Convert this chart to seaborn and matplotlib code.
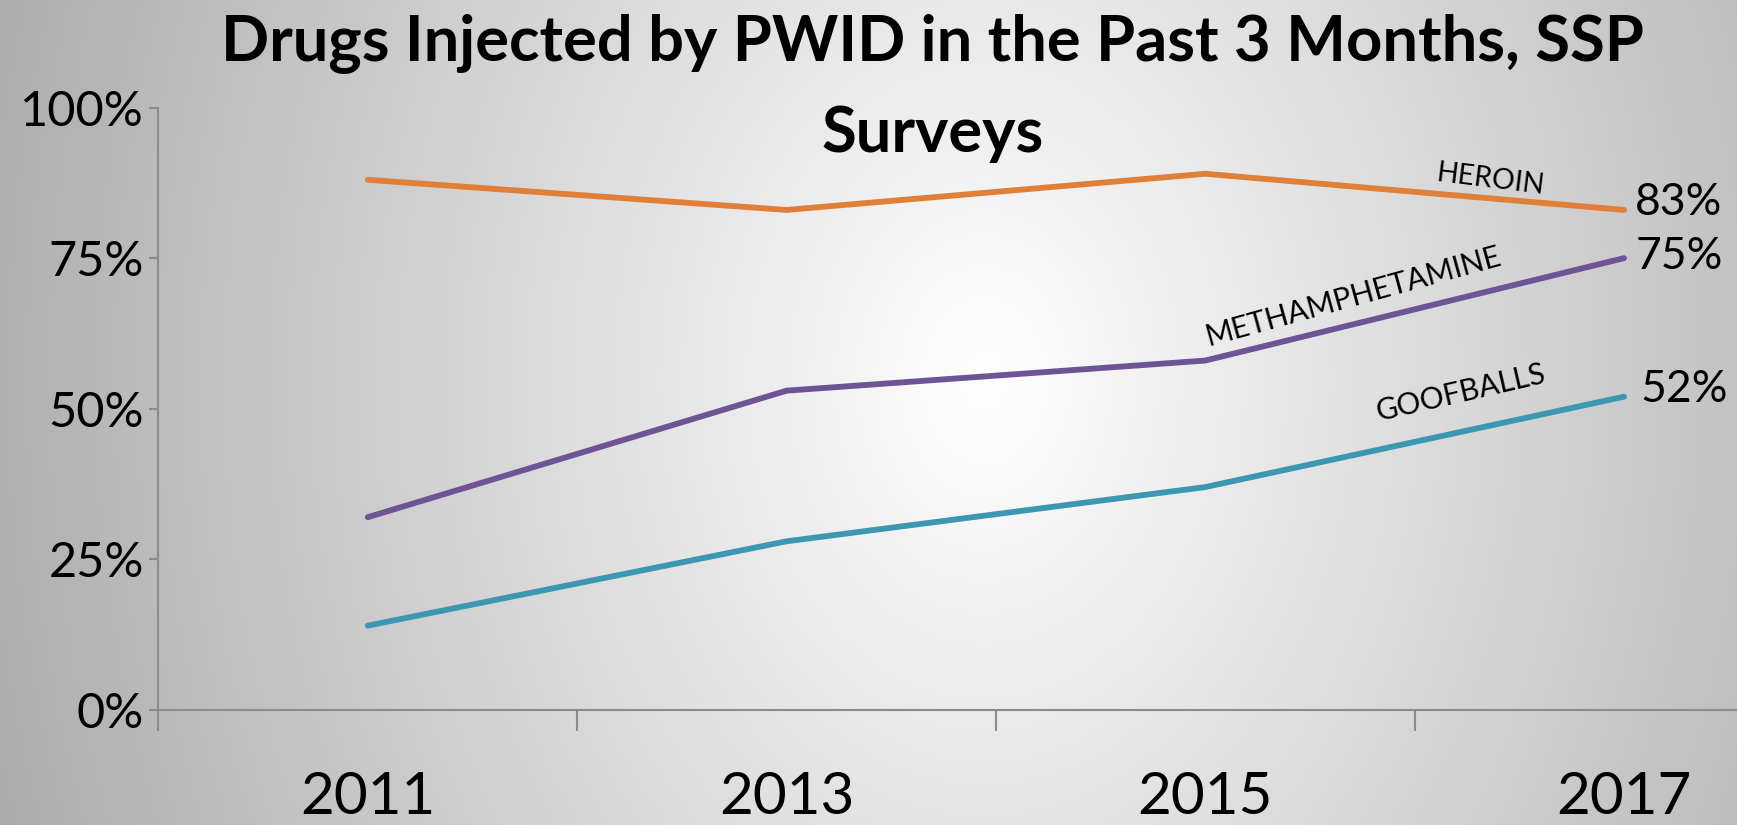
import numpy as np
import pandas as pd
import matplotlib
matplotlib.use("Agg")
import matplotlib.pyplot as plt
import seaborn as sns

years = ["2011", "2013", "2015", "2017"]
heroin = [88, 83, 89, 83]
meth = [32, 53, 58, 75]
goofballs = [14, 28, 37, 52]
series_names = ["HEROIN", "METHAMPHETAMINE", "GOOFBALLS"]
y_ticks = [0, 25, 50, 75, 100]
y_tick_labels = ["0%", "25%", "50%", "75%", "100%"]
title = "Drugs Injected by PWID in the Past 3 Months, SSP\nSurveys"

colors = {"HEROIN": "#E07F38", "METHAMPHETAMINE": "#6E5494", "GOOFBALLS": "#3C98B0"}

df = pd.DataFrame({
    "year": years * 3,
    "value": heroin + meth + goofballs,
    "drug": sum([[n] * len(years) for n in series_names], []),
})

sns.set_theme(style="white")
plt.rcParams["font.family"] = ["Lato", "DejaVu Sans"]
plt.rcParams["text.color"] = "black"

W, H = 1737, 825
fig = plt.figure(figsize=(W / 100, H / 100), dpi=100)

# radial gradient background
bg = fig.add_axes([0, 0, 1, 1], zorder=-10)
yy, xx = np.mgrid[0:H, 0:W]
cx, cy = 984, 380
r = np.sqrt((xx - cx) ** 2 + ((yy - cy) / 1.34) ** 2)
g = np.clip(1.0 - 0.30 * r / 954.0, 0, 1)
bg.imshow(np.dstack([g, g, g]), aspect="auto", extent=[0, 1, 0, 1], origin="upper")
bg.axis("off")

left = 158.4 / W
bottom = (H - 710) / H
ax = fig.add_axes([left, bottom, 1675 / W, 602.5 / H])
ax.patch.set_alpha(0)

sns.lineplot(data=df, x="year", y="value", hue="drug", palette=colors,
             linewidth=4.2, ax=ax, legend=False, sort=False,
             solid_capstyle="round")

ax.set_xlim(-0.5, 3.5)
ax.set_ylim(0, 100)
ax.set_xlabel("")
ax.set_ylabel("")
for s in ["top", "right"]:
    ax.spines[s].set_visible(False)
for s in ["left", "bottom"]:
    ax.spines[s].set_color("#8C8C8C")
    ax.spines[s].set_linewidth(1.5)

ax.set_yticks(y_ticks)
ax.set_yticklabels(y_tick_labels)
ax.tick_params(axis="y", length=6.5, width=1.5, color="#8C8C8C", pad=4,
               labelsize=35, labelcolor="black", left=True)

ax.set_xticks([-0.5, 0.5, 1.5, 2.5, 3.5])
ax.set_xticklabels([])
ax.tick_params(axis="x", which="major", length=15, width=1.5, color="#8C8C8C",
               direction="out", bottom=True)
ax.set_xticks([0, 1, 2, 3], minor=True)
ax.set_xticklabels(years, minor=True)
ax.tick_params(axis="x", which="minor", length=0, pad=44, labelsize=42,
               labelcolor="black")

# end value labels
offsets = [(8, 5), (8, 1), (12, 5)]
for vals, off in zip([heroin, meth, goofballs], offsets):
    ax.annotate(f"{vals[-1]}%", (3, vals[-1]), xytext=off,
                textcoords="offset points", fontsize=32, va="center", ha="left",
                color="black")

# series labels
ax.text(2.68, 88.0, "HEROIN", rotation=-7, fontsize=20.5, ha="center", va="center")
ax.text(2.352, 68.6, "METHAMPHETAMINE", rotation=15.5, fontsize=21.5, ha="center", va="center")
ax.text(2.61, 52.6, "GOOFBALLS", rotation=13, fontsize=21.5, ha="center", va="center")

fig.text(0.537, 0.984, title, ha="center", va="top", fontsize=45.5,
         fontweight="bold", linespacing=1.68, color="black")

fig.savefig("out.png", dpi=100)
